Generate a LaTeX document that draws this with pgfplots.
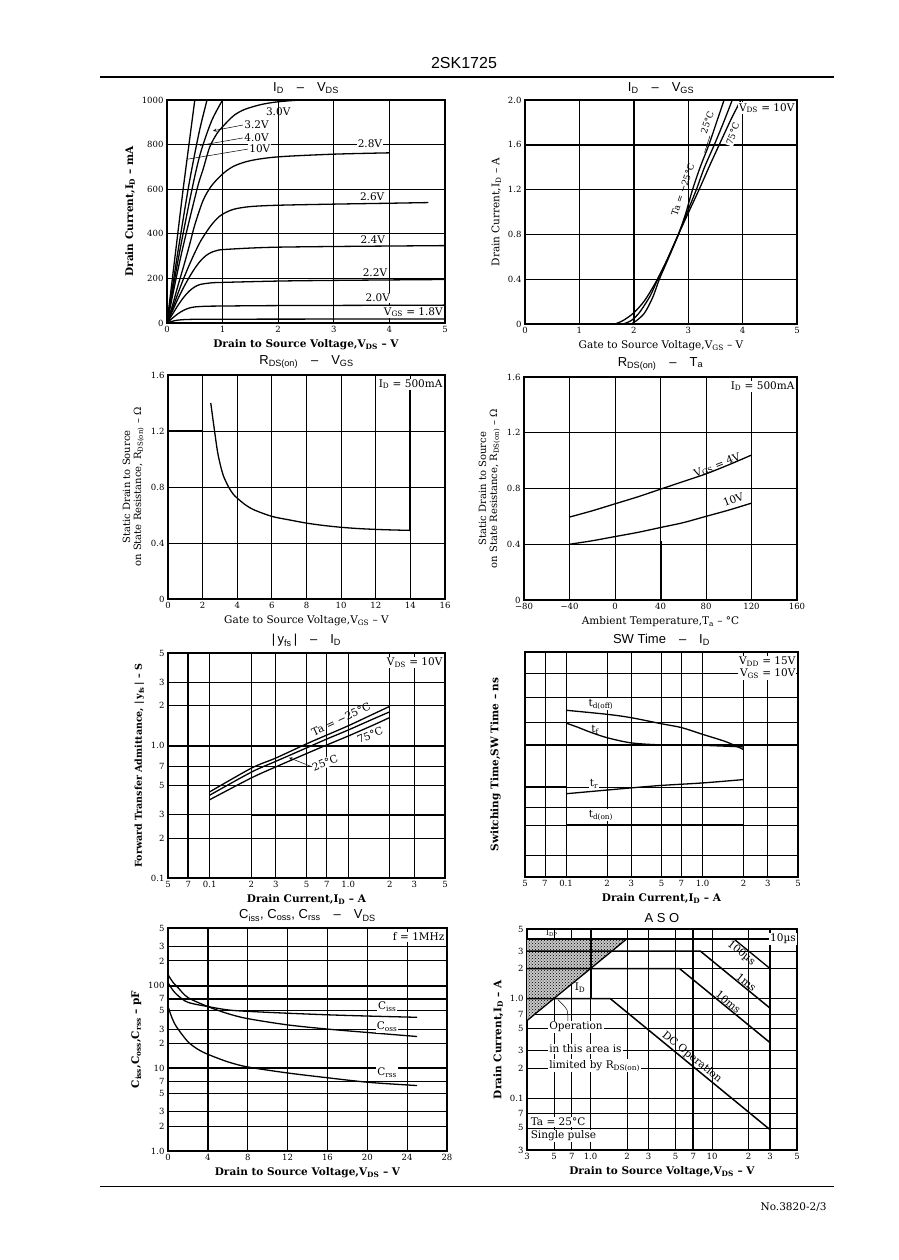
\documentclass[border=0pt]{standalone}
\usepackage{fontspec}
\setmainfont{DejaVu Serif}
\setsansfont{Liberation Sans}
\usepackage{pgfplots}
\pgfplotsset{compat=1.18}
\usetikzlibrary{patterns}
\newcommand{\sub}[1]{\textsubscript{#1}}
\pgfplotsset{
 ds/.style={scale only axis, anchor=south west,
   axis line style={line width=1.3pt},
   grid=major, major grid style={black,line width=0.85pt},
   tick style={draw=none},
   tick label style={font=\fontsize{8.5}{9}\selectfont},
   label style={font=\fontsize{10.5}{12}\selectfont},
   title style={font=\sffamily\fontsize{13}{13}\selectfont, yshift=-3pt}},
 cv/.style={black, line width=1.3pt, no markers},
 thk/.style={black, line width=2pt, no markers},
}
\tikzset{lb/.style={font=\fontsize{10.5}{10.5}\selectfont, inner sep=1pt},
         sl/.style={font=\fontsize{9}{9}\selectfont, inner sep=1pt}}
\begin{document}
\begin{tikzpicture}
\fill[white] (0pt,0pt) rectangle (898pt,1260pt);
\path[use as bounding box] (0pt,0pt) rectangle (898pt,1260pt);
\node[font=\sffamily\fontsize{16}{16}\selectfont] at (464pt,1197pt) {2SK1725};
\draw[line width=1.4pt] (100pt,1183pt) -- (834pt,1183pt);
\draw[line width=1pt] (100pt,73pt) -- (834pt,73pt);
\node[anchor=east, font=\fontsize{10.5}{11}\selectfont] at (830pt,53pt) {No.3820-2/3};

% ---------- Panel 1: ID - VDS
\begin{axis}[ds, at={(167pt,937pt)}, width=278pt, height=223pt,
  xmin=0, xmax=5, ymin=0, ymax=1000,
  xtick={0,1,2,3,4,5}, xticklabels={0,1,2,3,4,5},
  ytick={0,200,400,600,800,1000}, yticklabels={0,200,400,600,800,1000},
  title={I\sub{D}\quad –\quad V\sub{DS}},
  xlabel={\bfseries Drain to Source Voltage,V\sub{DS} – V},
  ylabel={\bfseries Drain Current,I\sub{D} – mA}]
\addplot[cv] coordinates {(0,0)(0.15,310)(0.29,600)(0.4,810)(0.5,1000)};
\addplot[cv,smooth] coordinates {(0,0)(0.19,310)(0.38,600)(0.5,760)(0.6,880)(0.72,1000)};
\addplot[cv,smooth] coordinates {(0,0)(0.22,310)(0.45,600)(0.6,760)(0.8,905)(1.0,1000)};
\addplot[cv,smooth] coordinates {(0,0)(0.25,300)(0.54,600)(0.65,690)(0.77,790)(0.9,850)(1.0,880)(1.2,930)(1.4,958)(1.7,980)(2.0,992)(2.4,1000)};
\addplot[cv,smooth] coordinates {(0,0)(0.1,80)(0.2,170)(0.3,255)(0.4,345)(0.5,440)(0.65,550)(0.8,615)(1,668)(1.2,703)(1.5,728)(2,745)(3,757)(4,763)};
\addplot[cv,smooth] coordinates {(0,0)(0.1,65)(0.2,135)(0.3,200)(0.4,260)(0.5,315)(0.6,365)(0.7,405)(0.8,440)(0.9,468)(1,488)(1.2,510)(1.5,522)(2,528)(3,533)(4,537)(4.7,540)};
\addplot[cv,smooth] coordinates {(0,0)(0.1,55)(0.2,110)(0.3,160)(0.4,205)(0.5,245)(0.6,278)(0.7,302)(0.8,317)(0.9,325)(1,329)(1.5,336)(2,340)(3,343)(5,347)};
\addplot[cv,smooth] coordinates {(0,0)(0.1,40)(0.2,80)(0.3,115)(0.4,143)(0.5,162)(0.6,173)(0.8,180)(1,182)(2,188)(3,191)(5,195)};
\addplot[cv,smooth] coordinates {(0,0)(0.1,22)(0.2,42)(0.3,57)(0.4,67)(0.5,72)(0.7,75)(1,76)(2,78)(5,80)};
\addplot[cv,smooth] coordinates {(0,0)(0.1,8)(0.2,13)(0.4,16)(1,17)(5,18)};
\draw[-stealth, line width=0.5pt] (1.37,888) -- (0.83,862);
\draw[line width=0.5pt] (1.37,830) -- (0.59,796);
\draw[line width=0.5pt] (1.46,780) -- (0.38,735);
\node[lb] at (2.0,948) {3.0V};
\node[lb,anchor=west,fill=white] at (1.37,888) {3.2V};
\node[lb,anchor=west,fill=white] at (1.37,832) {4.0V};
\node[lb,anchor=west,fill=white] at (1.46,780) {10V};
\node[lb,fill=white] at (3.65,803) {2.8V};
\node[lb,fill=white] at (3.69,565) {2.6V};
\node[lb,fill=white] at (3.70,372) {2.4V};
\node[lb,fill=white] at (3.74,224) {2.2V};
\node[lb,fill=white] at (3.79,112) {2.0V};
\node[lb,fill=white,anchor=east] at (4.98,49) {V\sub{GS} = 1.8V};
\end{axis}

% ---------- Panel 2: ID - VGS
\begin{axis}[ds, at={(525pt,936pt)}, width=272pt, height=224pt,
  xmin=0, xmax=5, ymin=0, ymax=2,
  xtick={0,1,2,3,4,5}, xticklabels={0,1,2,3,4,5},
  ytick={0,0.4,0.8,1.2,1.6,2.0}, yticklabels={0,0.4,0.8,1.2,1.6,2.0},
  title={I\sub{D}\quad –\quad V\sub{GS}},
  xlabel={Gate to Source Voltage,V\sub{GS} – V},
  ylabel={Drain Current,I\sub{D} – A}]
\addplot[thk] coordinates {(2,0)(2,2)};
\addplot[thk] coordinates {(0,1.6)(5,1.6)};
\addplot[cv,smooth] coordinates {(1.65,0)(1.8,0.03)(2.0,0.1)(2.2,0.21)(2.4,0.37)(2.6,0.56)(2.82,0.8)(3.0,0.99)(3.2,1.2)(3.4,1.42)(3.57,1.6)(3.8,1.84)(3.97,2.0)};
\addplot[cv,smooth] coordinates {(1.8,0)(1.95,0.03)(2.1,0.1)(2.3,0.25)(2.44,0.4)(2.6,0.56)(2.82,0.8)(3.0,1.02)(3.15,1.2)(3.3,1.4)(3.48,1.6)(3.65,1.8)(3.81,2.0)};
\addplot[cv,smooth] coordinates {(1.95,0)(2.05,0.03)(2.2,0.1)(2.35,0.24)(2.47,0.4)(2.63,0.58)(2.82,0.8)(2.95,0.98)(3.08,1.2)(3.22,1.4)(3.38,1.6)(3.52,1.8)(3.66,2.0)};
\node[lb,anchor=north east,fill=white] at (rel axis cs:0.995,0.99) {V\sub{DS} = 10V};
\node[sl,rotate=71] at (2.9,1.2) {Ta = −25°C};
\node[sl,rotate=71,fill=white] at (3.35,1.8) {25°C};
\draw[line width=0.5pt] (3.40,1.68) -- (3.30,1.53);
\node[sl,rotate=71,fill=white] at (3.82,1.70) {75°C};
\end{axis}

% ---------- Panel 3: RDS(on) - VGS
\begin{axis}[ds, at={(168pt,661pt)}, width=277pt, height=224pt,
  xmin=0, xmax=16, ymin=0, ymax=1.6,
  xtick={0,2,4,6,8,10,12,14,16}, xticklabels={0,2,4,6,8,10,12,14,16},
  ytick={0,0.4,0.8,1.2,1.6}, yticklabels={0,0.4,0.8,1.2,1.6},
  title={R\sub{DS(on)}\quad –\quad V\sub{GS}},
  xlabel={Gate to Source Voltage,V\sub{GS} – V},
  ylabel={Static Drain to Source\\on State Resistance, R\sub{DS(on)} – Ω},
  ylabel style={align=center, font=\fontsize{10}{11}\selectfont}]
\addplot[thk] coordinates {(14,0.49)(14,1.5)};
\addplot[thk] coordinates {(0,1.2)(2,1.2)};
\addplot[cv,smooth] coordinates {(2.47,1.40)(2.6,1.28)(2.7,1.19)(2.85,1.06)(3.0,0.97)(3.2,0.88)(3.5,0.80)(3.76,0.75)(4,0.72)(4.5,0.67)(5,0.635)(6,0.59)(7,0.565)(8,0.542)(9,0.525)(10,0.512)(11,0.503)(12,0.497)(13,0.493)(14,0.49)};
\node[lb,anchor=north east,fill=white] at (rel axis cs:0.995,0.985) {I\sub{D} = 500mA};
\end{axis}

% ---------- Panel 4: RDS(on) - Ta
\begin{axis}[ds, at={(524pt,660pt)}, width=273pt, height=223pt,
  xmin=-80, xmax=160, ymin=0, ymax=1.6,
  xtick={-80,-40,0,40,80,120,160}, xticklabels={−80,−40,0,40,80,120,160},
  ytick={0,0.4,0.8,1.2,1.6}, yticklabels={0,0.4,0.8,1.2,1.6},
  title={R\sub{DS(on)}\quad –\quad T\sub{a}},
  xlabel={Ambient Temperature,T\sub{a} – °C},
  ylabel={Static Drain to Source\\on State Resistance, R\sub{DS(on)} – Ω},
  ylabel style={align=center, font=\fontsize{10}{11}\selectfont}]
\addplot[thk] coordinates {(40,0)(40,0.42)};
\addplot[thk] coordinates {(160,0)(160,0.8)};
\addplot[cv,smooth] coordinates {(-40,0.595)(-20,0.64)(0,0.69)(20,0.74)(40,0.795)(60,0.85)(80,0.905)(100,0.97)(120,1.04)};
\addplot[cv,smooth] coordinates {(-40,0.40)(-20,0.425)(0,0.455)(20,0.485)(40,0.52)(60,0.555)(80,0.60)(100,0.645)(120,0.695)};
\node[lb,anchor=north east,fill=white] at (rel axis cs:0.995,0.985) {I\sub{D} = 500mA};
\node[lb,rotate=21] at (90,0.965) {V\sub{GS} = 4V};
\node[lb,rotate=21] at (104,0.72) {10V};
\end{axis}

% ---------- Panel 5: |yfs| - ID
\begin{axis}[ds, at={(168pt,382pt)}, width=277pt, height=225pt,
  xmode=log, ymode=log, xmin=0.05, xmax=5, ymin=0.1, ymax=5,
  xtick={0.05,0.07,0.1,0.2,0.3,0.5,0.7,1,2,3,5}, xticklabels={5,7,0.1,2,3,5,7,1.0,2,3,5},
  ytick={0.1,0.2,0.3,0.5,0.7,1,2,3,5}, yticklabels={0.1,2,3,5,7,1.0,2,3,5},
  title={|\,y\sub{fs}\,|\quad –\quad I\sub{D}},
  xlabel={\bfseries Drain Current,I\sub{D} – A},
  ylabel={\bfseries Forward Transfer Admittance, |\,y\sub{fs}\,| – S},
  ylabel style={font=\fontsize{9.5}{10}\selectfont}]
\addplot[thk] coordinates {(0.07,0.1)(0.07,5)};
\addplot[thk] coordinates {(0.05,1)(5,1)};
\addplot[thk] coordinates {(0.2,0.3)(5,0.3)};
\addplot[cv] coordinates {(0.1,0.35)(0.1,0.45)};
\addplot[cv,smooth] coordinates {(0.1,0.447)(0.2,0.675)(0.3,0.805)(0.5,1.03)(0.7,1.2)(1,1.41)(1.5,1.72)(2,1.98)};
\addplot[cv,smooth] coordinates {(0.1,0.422)(0.2,0.63)(0.3,0.76)(0.5,0.96)(0.7,1.12)(1,1.31)(1.5,1.58)(2,1.8)};
\addplot[cv,smooth] coordinates {(0.1,0.39)(0.2,0.57)(0.3,0.69)(0.5,0.87)(0.7,1.01)(1,1.18)(1.5,1.42)(2,1.63)};
\node[lb,anchor=north east,fill=white] at (rel axis cs:0.995,0.985) {V\sub{DS} = 10V};
\node[lb,rotate=25] at (0.887,1.58) {Ta = −25°C};
\node[lb,rotate=22] at (1.44,1.2) {75°C};
\node[lb,rotate=22,fill=white] at (0.68,0.74) {25°C};
\draw[-stealth,line width=0.5pt] (0.55,0.69) -- (0.374,0.81);
\end{axis}

% ---------- Panel 6: SW Time - ID
\begin{axis}[ds, at={(525pt,383pt)}, width=273pt, height=225pt,
  xmode=log, xmin=0.05, xmax=5, ymin=0, ymax=1,
  xtick={0.05,0.07,0.1,0.2,0.3,0.5,0.7,1,2,3,5}, xticklabels={5,7,0.1,2,3,5,7,1.0,2,3,5},
  ytick={0.096,0.23,0.311,0.4,0.585,0.689,0.8,0.904}, yticklabels={},
  ylabel shift=14pt,
  title={SW Time\quad –\quad I\sub{D}},
  xlabel={\bfseries Drain Current,I\sub{D} – A},
  ylabel={\bfseries Switching Time,SW Time – ns}]
\addplot[thk] coordinates {(0.05,0.585)(5,0.585)};
\addplot[thk] coordinates {(0.05,0.4)(0.1,0.4)};
\addplot[cv,smooth] coordinates {(0.1,0.741)(0.2,0.723)(0.3,0.708)(0.5,0.681)(0.7,0.664)(1.0,0.634)(1.5,0.6)(2,0.566)};
\addplot[cv,smooth] coordinates {(0.1,0.684)(0.12,0.667)(0.15,0.644)(0.2,0.619)(0.3,0.596)(0.5,0.587)(1.0,0.585)(2,0.578)};
\addplot[cv,smooth] coordinates {(0.1,0.370)(0.3,0.396)(0.5,0.407)(1.0,0.418)(2,0.433)};
\addplot[cv] coordinates {(0.1,0.233)(2,0.233)};
\node[lb,anchor=north east,fill=white,align=right] at (rel axis cs:0.995,0.985) {V\sub{DD} = 15V\\[2pt]V\sub{GS} = 10V};
\node[lb,fill=white] at (0.18,0.768) {t\sub{d(off)}};
\node[lb] at (0.163,0.655) {t\sub{f}};
\node[lb,fill=white] at (0.16,0.415) {t\sub{r}};
\node[lb,fill=white] at (0.18,0.275) {t\sub{d(on)}};
\end{axis}

% ---------- Panel 7: Ciss, Coss, Crss - VDS
\begin{axis}[ds, at={(168pt,109pt)}, width=279pt, height=223pt,
  ymode=log, xmin=0, xmax=28, ymin=1, ymax=500,
  xtick={0,4,8,12,16,20,24,28}, xticklabels={0,4,8,12,16,20,24,28},
  ytick={1,2,3,5,7,10,20,30,50,70,100,200,300,500}, yticklabels={1.0,2,3,5,7,10,2,3,5,7,100,2,3,5},
  title={C\sub{iss}, C\sub{oss}, C\sub{rss}\quad –\quad V\sub{DS}},
  xlabel={\bfseries Drain to Source Voltage,V\sub{DS} – V},
  ylabel={\bfseries C\sub{iss},C\sub{oss},C\sub{rss} – pF}]
\addplot[thk] coordinates {(0,100)(28,100)};
\addplot[thk] coordinates {(0,70)(28,70)};
\addplot[thk] coordinates {(0,10)(28,10)};
\addplot[thk] coordinates {(4,1)(4,500)};
\addplot[cv,smooth] coordinates {(0,109)(0.5,88)(1,76)(2,63)(4,56)(6,51)(8,49)(12,46.5)(16,44.5)(20,43)(25,41.5)};
\addplot[cv,smooth] coordinates {(0,136)(0.5,110)(1,95)(2,72)(4,56)(6,46)(8,40)(12,33.6)(16,29.9)(20,27.2)(25,24.3)};
\addplot[cv,smooth] coordinates {(0,56)(0.3,44)(0.6,36)(1,30)(2,21)(3,17)(4,14.8)(6,12)(8,10.4)(12,8.8)(16,7.7)(20,6.8)(24,6.3)(25,6.2)};
\node[lb,anchor=north east,fill=white] at (rel axis cs:0.995,0.985) {f = 1MHz};
\node[lb,fill=white] at (22,55.6) {C\sub{iss}};
\node[lb,fill=white] at (22,31.8) {C\sub{oss}};
\node[lb,fill=white] at (22,8.8) {C\sub{rss}};
\end{axis}

% ---------- Panel 8: ASO
\begin{axis}[ds, at={(527pt,110pt)}, width=270pt, height=221pt,
  xmode=log, ymode=log, xmin=0.3, xmax=50, ymin=0.03, ymax=5,
  xtick={0.3,0.5,0.7,1,2,3,5,7,10,20,30,50}, xticklabels={3,5,7,1.0,2,3,5,7,10,2,3,5},
  ytick={0.03,0.05,0.07,0.1,0.2,0.3,0.5,0.7,1,2,3,5}, yticklabels={3,5,7,0.1,2,3,5,7,1.0,2,3,5},
  title={A S O},
  xlabel={\bfseries Drain to Source Voltage,V\sub{DS} – V},
  ylabel={\bfseries Drain Current,I\sub{D} – A}]
\addplot[draw=none, fill=black!22] coordinates {(0.3,0.6)(0.3,4)(2,4)} -- cycle;
\addplot[draw=none, pattern=crosshatch dots, pattern color=black] coordinates {(0.3,0.6)(0.3,4)(2,4)} -- cycle;
\addplot[thk] coordinates {(7,0.03)(7,5)};
\addplot[thk] coordinates {(30,0.03)(30,5)};
\addplot[thk] coordinates {(1,1)(1,5)};
\addplot[cv] coordinates {(0.3,0.6)(2,4)};
\addplot[cv, line width=1.8pt] coordinates {(0.3,4)(30,4)};
\addplot[cv] coordinates {(15,4)(30,2)};
\addplot[cv, line width=1.5pt] coordinates {(0.3,3)(8,3)(30,0.8)};
\addplot[cv, line width=1.5pt] coordinates {(0.3,2)(5.4,2)(30,0.36)};
\addplot[cv, line width=1.5pt] coordinates {(0.3,1)(1.45,1)(30,0.048)};
\addplot[black, line width=0.5pt, smooth] coordinates {(0.65,0.58)(0.64,0.77)(0.54,0.97)};
\node[font=\fontsize{7.5}{8}\selectfont, inner sep=0.5pt] at (0.48,4.5) {I\sub{DP}};
\node[lb] at (0.82,1.28) {I\sub{D}};
\node[lb,anchor=east,fill=white] at (50,4) {10µs};
\node[lb,rotate=-39,anchor=north] at (18.7,3.2) {100µs};
\node[lb,rotate=-39,anchor=south] at (18,1.33) {1ms};
\node[lb,rotate=-39,anchor=south] at (12.8,0.84) {10ms};
\node[lb,rotate=-39,anchor=south] at (6.34,0.229) {DC Operation};
\node[lb,anchor=west,fill=white] at (0.447,0.517) {Operation};
\node[lb,anchor=west,fill=white] at (0.447,0.311) {in this area is};
\node[lb,anchor=west,fill=white] at (0.447,0.21) {limited by R\sub{DS(on)}};
\node[lb,anchor=west,fill=white] at (0.315,0.0574) {Ta = 25°C};
\node[lb,anchor=west,fill=white] at (0.315,0.0416) {Single pulse};
\end{axis}
\end{tikzpicture}
\end{document}
